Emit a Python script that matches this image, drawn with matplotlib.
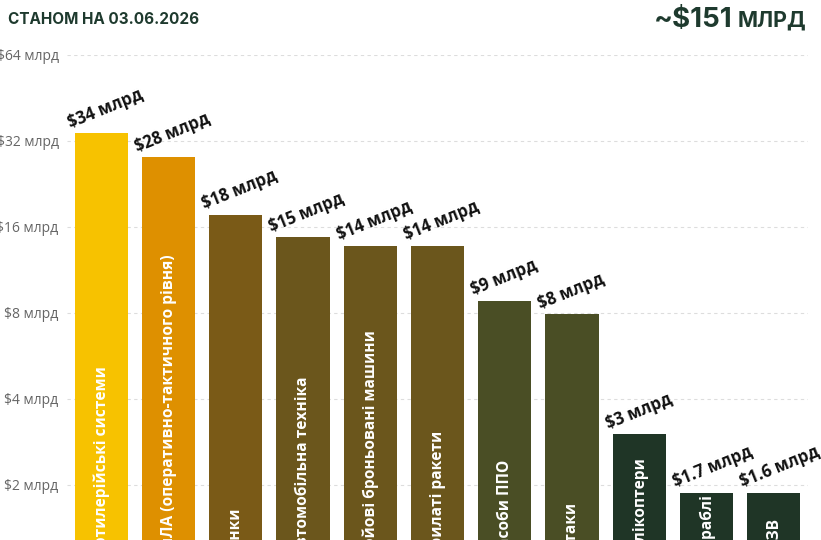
import matplotlib.pyplot as plt
from matplotlib.transforms import blended_transform_factory

# Дані
categories = ["Артилерійські системи", "БпЛА (оперативно-тактичного рівня)", "Танки",
              "Автомобільна техніка", "Бойові броньовані машини", "Крилаті ракети",
              "Засоби ППО", "Літаки", "Гелікоптери", "Кораблі", "РСЗВ"]
values = [34, 28, 17.6, 14.7, 13.7, 13.7, 8.8, 7.9, 3.0, 1.87, 1.87]
value_labels = ["$34 млрд", "$28 млрд", "$18 млрд", "$15 млрд", "$14 млрд", "$14 млрд",
                "$9 млрд", "$8 млрд", "$3 млрд", "$1.7 млрд", "$1.6 млрд"]
colors = ["#F7C200", "#DE9000", "#7A5A17", "#6B561C", "#6B561C", "#6B561C",
          "#4A4E25", "#4A4E25", "#1F3526", "#1F3526", "#1F3526"]
yticks = [2, 4, 8, 16, 32, 64]
ytick_labels = ["$2 млрд", "$4 млрд", "$8 млрд", "$16 млрд", "$32 млрд", "$64 млрд"]

fig = plt.figure(figsize=(8.21, 5.40), dpi=100)
ax = fig.add_axes([67 / 821, 0, (808 - 67) / 821, 485 / 540])

x = range(len(categories))
ax.bar(x, values, width=0.79, color=colors, zorder=2)
ax.set_yscale("log", base=2)
ax.set_ylim(1.28, 64)
ax.set_xlim(-0.51, 10.51)

ax.set_yticks(yticks)
ax.set_yticklabels(ytick_labels, fontsize=10, color="#666666", family="Open Sans")
ax.minorticks_off()
ax.tick_params(axis="y", length=0, pad=6)
ax.set_xticks([])
ax.grid(axis="y", linestyle=(0, (3, 3)), color="#dddddd", linewidth=0.8, zorder=0)
for s in ax.spines.values():
    s.set_visible(False)

# Підписи значень над стовпцями
for i, v in enumerate(values):
    ax.text(i - 0.44, v * 1.015, value_labels[i], rotation=22, rotation_mode="anchor",
            ha="left", va="bottom", fontsize=12, fontweight="bold", family="Open Sans",
            color="#111111", zorder=3)

# Назви всередині стовпців
trans = blended_transform_factory(ax.transData, ax.transAxes)
for i, c in enumerate(categories):
    ax.text(i, -0.036, c, transform=trans, rotation=90, ha="center", va="bottom",
            fontsize=11.2, fontweight="bold", family="Open Sans", color="white",
            clip_on=False, zorder=3)

fig.text(8 / 821, 1 - 20 / 540, "СТАНОМ НА 03.06.2026", ha="left", va="center",
         fontsize=11, fontweight="bold", family="Inter", color="#1E3A2E")
fig.text(733 / 821, 1 - 20 / 540, "~$151", ha="right", va="center",
         fontsize=20, fontweight="bold", family="Inter", color="#1E3A2E")
fig.text(738 / 821, 1 - 21 / 540, "МЛРД", ha="left", va="center",
         fontsize=15.5, fontweight="bold", family="Inter", color="#1E3A2E")

fig.savefig("out.png", dpi=100)
